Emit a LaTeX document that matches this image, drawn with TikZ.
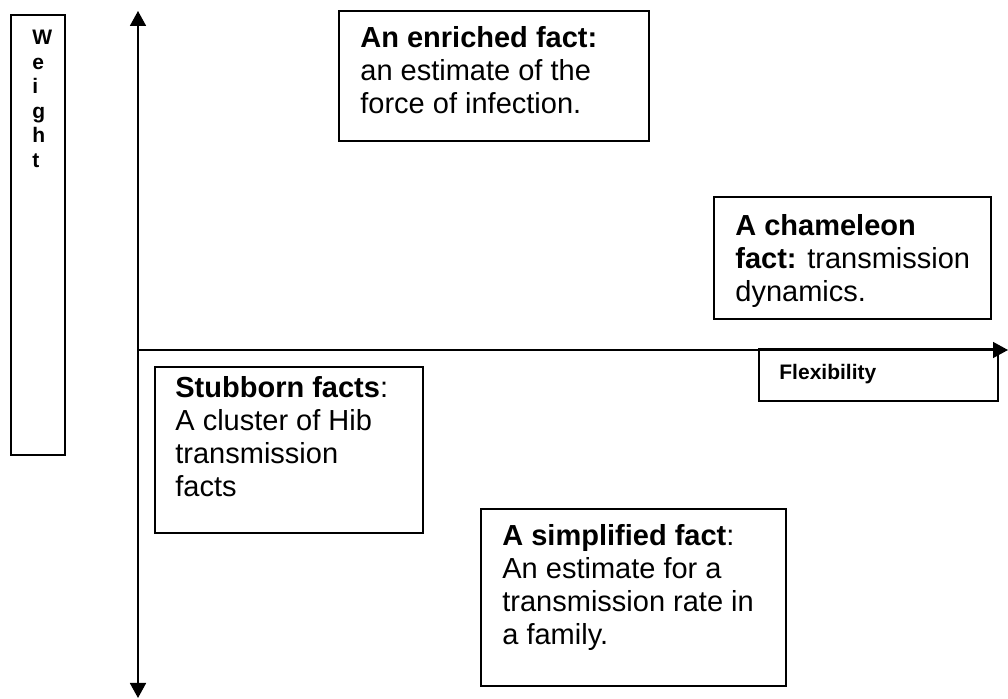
\documentclass[tikz,border=0pt]{standalone}
\usepackage{fontspec}
\setmainfont{Liberation Sans}
\usetikzlibrary{arrows.meta}

\begin{document}
\begin{tikzpicture}[
            x=0.5pt, y=-0.5pt, % One unit is one pixel, y runs downwards
            box/.style={draw, line width=0.9pt, inner sep=0pt, anchor=north west}, % Frame round a text
            fact/.style={inner sep=0pt, anchor=north west, align=left, font=\fontsize{14.5}{16.5}\selectfont}, % Text of a fact
            axisname/.style={inner sep=0pt, align=left, font=\fontsize{10.5}{12.25}\selectfont\bfseries}, % Names of the axes
            axis/.style={line width=0.9pt, >={Triangle[length=7.5pt, width=8pt]}} % Axis line and its heads
            ]

                \useasboundingbox (0,0) rectangle (1008,699);

                % Axes
                \coordinate (origin) at (138,350);
                \coordinate (ytop) at (138,11);
                \coordinate (ybottom) at (138,698);
                \coordinate (xend) at (1008,350);
                \draw[axis, <->] (ybottom) -- (ytop);
                \draw[axis, ->, line width=0.75pt] (origin) -- (xend);

                % Frames
                \node[box, minimum width=27pt, minimum height=220pt] (weightbox) at (10,14) {};
                \node[box, minimum width=155pt, minimum height=65pt] (enrichedbox) at (338,10) {};
                \node[box, minimum width=138.5pt, minimum height=61pt] (chameleonbox) at (713,196) {};
                \node[box, minimum width=134pt, minimum height=83pt] (stubbornbox) at (154,366) {};
                \node[box, minimum width=152.5pt, minimum height=88.5pt] (simplifiedbox) at (480,508) {};
                \node[box, minimum width=119.5pt, minimum height=26pt] (flexbox) at (758,348) {};

                % Texts inside the frames
                \node[axisname, anchor=north west] (weight) at ([shift={(22,16)}]weightbox.north west) {W\\e\\i\\g\\h\\t};
                \node[axisname, anchor=base west] (flexibility) at ([shift={(21,32)}]flexbox.north west) {Flexibility};
                \node[fact] (enriched) at ([shift={(22,16)}]enrichedbox.north west)
                    {\textbf{An enriched fact:}\\an estimate of the\\force of infection.};
                \node[fact] (chameleon) at ([shift={(22,18)}]chameleonbox.north west)
                    {\textbf{A chameleon}\\\textbf{fact:} transmission\\dynamics.};
                \node[fact] (stubborn) at ([shift={(21,10)}]stubbornbox.north west)
                    {\textbf{Stubborn facts}:\\A cluster of Hib\\transmission\\facts};
                \node[fact] (simplified) at ([shift={(22,16)}]simplifiedbox.north west)
                    {\textbf{A simplified fact}:\\An estimate for a\\transmission rate in\\a family.};

            \end{tikzpicture}
\end{document}
